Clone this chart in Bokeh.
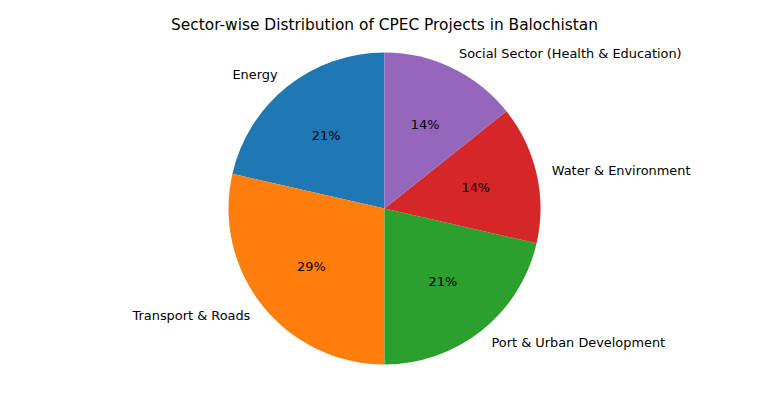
import numpy as np
from bokeh.plotting import figure
from bokeh.models import ColumnDataSource, Range1d
from bokeh.core.properties import value
from bokeh.embed import file_html
from bokeh.resources import INLINE

title = "Sector-wise Distribution of CPEC Projects in Balochistan"
sectors = ["Energy", "Transport & Roads", "Port & Urban Development",
           "Water & Environment", "Social Sector (Health & Education)"]
projects = [3, 4, 3, 2, 2]
colors = ["#1f77b4", "#ff7f0e", "#2ca02c", "#d62728", "#9467bd"]

W, H = 758, 397
cx, cy, R = 384, 208, 156  # pixel centre / radius

vals = np.array(projects, dtype=float)
frac = vals / vals.sum()
start = np.pi / 2 + 2 * np.pi * np.concatenate([[0], np.cumsum(frac)[:-1]])
end = start + 2 * np.pi * frac
mid = (start + end) / 2

src = ColumnDataSource(dict(start=start, end=end, color=colors))

p = figure(width=W, height=H, output_backend="svg", toolbar_location=None,
           x_range=Range1d(-cx / R, (W - cx) / R),
           y_range=Range1d(-(H - cy) / R, cy / R),
           min_border=0, outline_line_color=None)
p.axis.visible = False
p.grid.visible = False
p.background_fill_color = "white"
p.border_fill_color = "white"

p.wedge(x=0, y=0, radius=1, start_angle="start", end_angle="end",
        direction="anticlock", fill_color="color", line_color=None, source=src)

font = value("DejaVu Sans")
# percentages
pct = [f"{round(f * 100):.0f}%" for f in frac]
p.text(x=0.6 * np.cos(mid), y=0.6 * np.sin(mid), text=pct,
       text_align="center", text_baseline="middle",
       text_font=font, text_font_size=value("12.9px"), text_color="black")

# outer labels
lx = 1.1 * np.cos(mid)
ly = 1.1 * np.sin(mid)
for x, y, s in zip(lx, ly, sectors):
    p.text(x=[x], y=[y], text=[s], text_align="left" if x > 0 else "right",
           text_baseline="middle", text_font=font,
           text_font_size=value("12.9px"), text_color="black")

# title
p.text(x=[0], y=[(cy - 24.5) / R], text=[title], text_align="center",
       text_baseline="middle", text_font=font, text_font_size=value("15.4px"),
       text_color="black")

open("out.html", "w").write(file_html(p, INLINE))
